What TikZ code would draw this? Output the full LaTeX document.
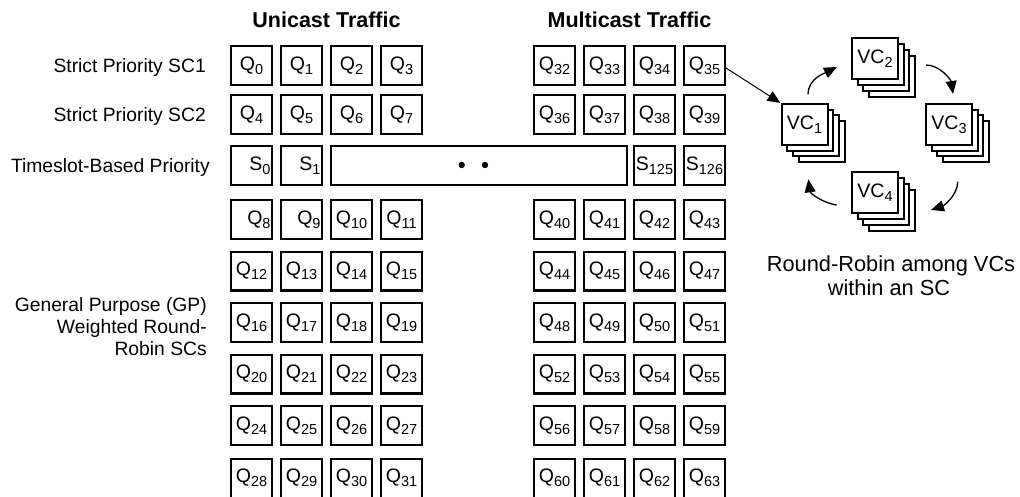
\documentclass[tikz,border=0pt]{standalone}
\usepackage{fontspec}
\setmainfont{Liberation Sans}
\usetikzlibrary{arrows.meta,calc}
\newcommand\sbx[1]{\raisebox{-4.3pt}{\fontsize{14.5}{14.5}\selectfont #1}}
\tikzset{
  qbox/.style={draw, line width=2.2pt, fill=white, minimum width=40.8pt, minimum height=38.8pt,
    inner sep=0pt, font=\fontsize{19.5}{22}\selectfont},
  rbox/.style={qbox, text width=38pt, align=right},
  qlabel/.style={inner sep=0pt, font=\fontsize{19.5}{22}\selectfont},
  vcbox/.style={draw, line width=2pt, fill=white, minimum width=46pt, minimum height=41pt,
    inner sep=0pt, font=\fontsize{19.5}{22}\selectfont},
  rowlabel/.style={anchor=base east, inner sep=0pt, font=\fontsize{19.3}{22}\selectfont},
  title/.style={anchor=base, inner sep=0pt, font=\fontsize{21.5}{24}\selectfont\bfseries},
  capt/.style={anchor=base, inner sep=0pt, font=\fontsize{21.8}{24}\selectfont},
  tip/.style={-{Triangle[length=13pt,width=11pt]}},
  rr/.style={tip, line width=1.3pt},
}
\begin{document}
\begin{tikzpicture}[x=1pt,y=-1pt]
\useasboundingbox (0,0) rectangle (1020,497);

% titles
\node[title] (uni) at (326.5,28) {Unicast Traffic};
\node[title] (multi) at (629.5,28) {Multicast Traffic};

% row labels
\node[rowlabel] (l1) at (206,72.5) {Strict Priority SC1};
\node[rowlabel] (l2) at (206,121.5) {Strict Priority SC2};
\node[rowlabel] (l3) at (210,172.5) {Timeslot-Based Priority};
\node[rowlabel] (gp1) at (207,311) {General Purpose (GP)};
\node[rowlabel] (gp2) at (207,333) {Weighted Round-};
\node[rowlabel] (gp3) at (207,355) {Robin SCs};

% strict priority rows
\foreach \r/\y in {0/65.5,1/114.5}{
  \foreach \c in {0,1,2,3}{
    \pgfmathtruncatemacro\n{4*\r+\c}
    \pgfmathtruncatemacro\m{4*\r+\c+32}
    \node[qbox] (q\n) at (251.5+50*\c,\y) {Q\sbx{\n}};
    \node[qbox] (q\m) at (554.5+50*\c,\y) {Q\sbx{\m}};
  }
}

% timeslot row
\node[rbox] (s0) at (251.5,165.5) {S\sbx{0}};
\node[rbox] (s1) at (301.5,165.5) {S\sbx{1}};
\node[qbox, minimum width=295.8pt] (bar) at (479,165.5) {};
\fill ($(bar.center)+(-17.3,-0.5)$) circle[radius=3.2pt];
\fill ($(bar.center)+(6,-0.5)$) circle[radius=3.2pt];
\node[qbox] (s125) at (654.5,165.5) {S\sbx{125}};
\node[qbox] (s126) at (704.5,165.5) {S\sbx{126}};

% general purpose rows
\foreach \r in {2,...,6}{
  \foreach \c in {0,1,2,3}{
    \pgfmathtruncatemacro\n{4*\r+\c}
    \pgfmathtruncatemacro\m{4*\r+\c+32}
    \pgfmathsetmacro\y{219.5+51.5*(\r-2)}
    \ifnum\n<10
      \node[rbox] (q\n) at (251.5+50*\c,\y) {Q\sbx{\n}};
    \else
      \node[qbox] (q\n) at (251.5+50*\c,\y) {Q\sbx{\n}};
    \fi
    \node[qbox] (q\m) at (554.5+50*\c,\y) {Q\sbx{\m}};
  }
}
% last row (runs past the bottom edge)
\foreach \c in {0,1,2,3}{
  \pgfmathtruncatemacro\n{28+\c}
  \pgfmathtruncatemacro\m{60+\c}
  \node[qbox, minimum height=48pt, anchor=north,
        label={[qlabel, yshift=4.6pt]center:Q\sbx{\n}}] (q\n) at (251.5+50*\c,457.6) {};
  \node[qbox, minimum height=48pt, anchor=north,
        label={[qlabel, yshift=4.6pt]center:Q\sbx{\m}}] (q\m) at (554.5+50*\c,457.6) {};
}

% VC stacks
\foreach \nm/\x/\y/\k in {vc1/804.5/124.5/1, vc2/875/59/2, vc3/949/124.5/3, vc4/875/193/4}{
  \foreach \j in {3,2,1}{
    \node[vcbox] (\nm-\j) at (\x+5.7*\j,\y+5.7*\j) {};
  }
  \node[vcbox] (\nm) at (\x,\y) {VC\sbx{\k}};
}

% arrow from Q35 to VC1
\draw[tip, line width=1pt] ([yshift=-2.5pt]q35.east) -- (vc1.north west);

% round robin arrows
\draw[rr] ([shift={(3.5,-8.5)}]vc1.north) .. controls +(0,-16) and +(-12,6) .. ([shift={(-14,8)}]vc2.west);
\draw[rr] ([shift={(27,6)}]vc2.east) .. controls +(14,0) and +(-2,-14) .. ([shift={(4,-9)}]vc3.north);
\draw[rr] ([shift={(8.7,35.7)}]vc3.south) .. controls +(0,14) and +(12,-4) .. ([shift={(32,17)}]vc4.east);
\draw[rr] ([shift={(-14.3,12)}]vc4.west) .. controls +(-14,-2) and +(2,14) .. ([shift={(3.8,33.3)}]vc1.south);

% caption
\node[capt] (cap1) at (891,271) {Round-Robin among VCs};
\node[capt] (cap2) at (889,295) {within an SC};
\end{tikzpicture}
\end{document}
